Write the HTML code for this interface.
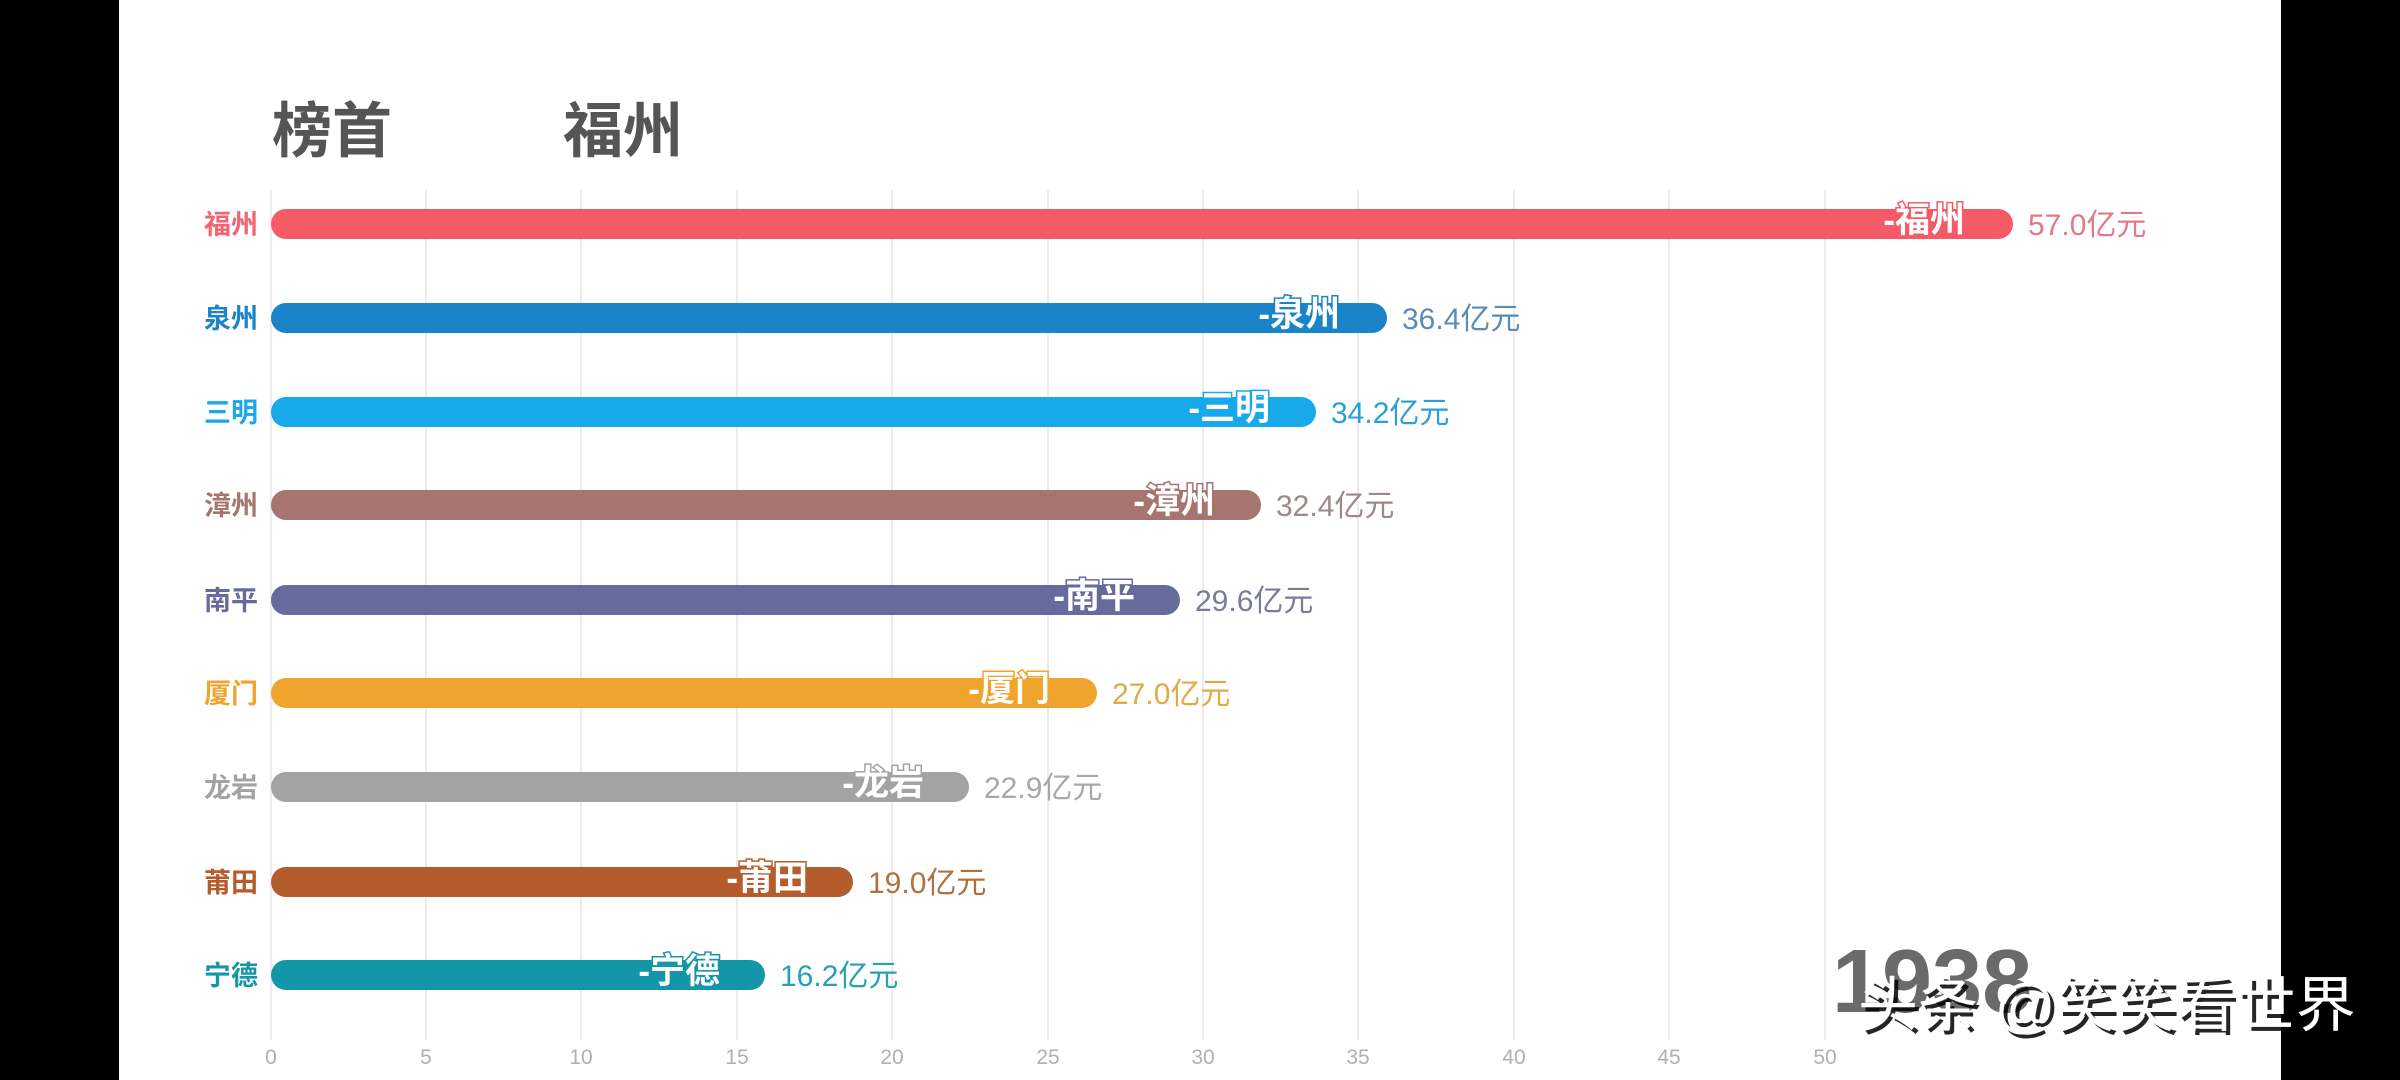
<!DOCTYPE html>
<html><head><meta charset="utf-8"><style>
html,body{margin:0;padding:0;background:#000;}
svg{display:block;}
text{font-family:"Liberation Sans","Noto Sans CJK SC",sans-serif;}
</style></head><body>
<svg width="2400" height="1080" viewBox="0 0 2400 1080" xmlns="http://www.w3.org/2000/svg">
<rect x="0" y="0" width="2400" height="1080" fill="#000"/>
<rect x="119" y="0" width="2162" height="1080" fill="#fff"/>
<g stroke="#ececec" stroke-width="2">
<line x1="271" y1="190" x2="271" y2="1040"/>
<line x1="426" y1="190" x2="426" y2="1040"/>
<line x1="581" y1="190" x2="581" y2="1040"/>
<line x1="737" y1="190" x2="737" y2="1040"/>
<line x1="892" y1="190" x2="892" y2="1040"/>
<line x1="1048" y1="190" x2="1048" y2="1040"/>
<line x1="1203" y1="190" x2="1203" y2="1040"/>
<line x1="1358" y1="190" x2="1358" y2="1040"/>
<line x1="1514" y1="190" x2="1514" y2="1040"/>
<line x1="1669" y1="190" x2="1669" y2="1040"/>
<line x1="1825" y1="190" x2="1825" y2="1040"/>
</g>
<g fill="#b0b0b0" font-size="21" text-anchor="middle">
<text x="271" y="1064">0</text><text x="426" y="1064">5</text><text x="581" y="1064">10</text><text x="737" y="1064">15</text><text x="892" y="1064">20</text><text x="1048" y="1064">25</text><text x="1203" y="1064">30</text><text x="1358" y="1064">35</text><text x="1514" y="1064">40</text><text x="1669" y="1064">45</text><text x="1825" y="1064">50</text>
</g>
<text x="272" y="152" font-size="60" font-weight="bold" fill="#555">榜首</text>
<text x="563" y="152" font-size="60" font-weight="bold" fill="#555">福州</text>
<g stroke-linecap="round" stroke-width="30">
<line x1="286" y1="224" x2="1998" y2="224" stroke="#f55b66"/>
<line x1="286" y1="318" x2="1372" y2="318" stroke="#1b84c9"/>
<line x1="286" y1="412" x2="1301" y2="412" stroke="#17a9ea"/>
<line x1="286" y1="505" x2="1246" y2="505" stroke="#a77470"/>
<line x1="286" y1="600" x2="1165" y2="600" stroke="#676a9c"/>
<line x1="286" y1="693" x2="1082" y2="693" stroke="#eea42d"/>
<line x1="286" y1="787" x2="954" y2="787" stroke="#a3a3a3"/>
<line x1="286" y1="882" x2="838" y2="882" stroke="#b45c2b"/>
<line x1="286" y1="975" x2="750" y2="975" stroke="#1496a8"/>
</g>
<g font-size="27" font-weight="bold" text-anchor="end">
<text x="258" y="234" fill="#f26470">福州</text>
<text x="258" y="328" fill="#1b84c9">泉州</text>
<text x="258" y="422" fill="#17a9ea">三明</text>
<text x="258" y="515" fill="#a77470">漳州</text>
<text x="258" y="610" fill="#676a9c">南平</text>
<text x="258" y="703" fill="#eea42d">厦门</text>
<text x="258" y="797" fill="#a3a3a3">龙岩</text>
<text x="258" y="892" fill="#b45c2b">莆田</text>
<text x="258" y="985" fill="#1496a8">宁德</text>
</g>
<g font-size="35" font-weight="bold" text-anchor="end" fill="#fff" stroke-width="3" paint-order="stroke">
<text x="1965" y="232" stroke="#f55b66">-福州</text>
<text x="1340" y="326" stroke="#1b84c9">-泉州</text>
<text x="1270" y="420" stroke="#17a9ea">-三明</text>
<text x="1215" y="513" stroke="#a77470">-漳州</text>
<text x="1135" y="608" stroke="#676a9c">-南平</text>
<text x="1050" y="701" stroke="#eea42d">-厦门</text>
<text x="924" y="795" stroke="#a3a3a3">-龙岩</text>
<text x="808" y="890" stroke="#b45c2b">-莆田</text>
<text x="720" y="983" stroke="#1496a8">-宁德</text>
</g>
<g font-size="30">
<text x="2028" y="235" fill="#e07a86">57.0亿元</text>
<text x="1402" y="329" fill="#5a8cb5">36.4亿元</text>
<text x="1331" y="423" fill="#2aa0d6">34.2亿元</text>
<text x="1276" y="516" fill="#9a8a88">32.4亿元</text>
<text x="1195" y="611" fill="#7a7c9a">29.6亿元</text>
<text x="1112" y="704" fill="#e0aa44">27.0亿元</text>
<text x="984" y="798" fill="#a8a8a8">22.9亿元</text>
<text x="868" y="893" fill="#b0703f">19.0亿元</text>
<text x="780" y="986" fill="#2aa0b0">16.2亿元</text>
</g>
<text x="1832" y="1012" font-size="90" font-weight="bold" fill="#6a6a6a">1938</text>
<text x="1862" y="1030" font-size="60" fill="#000" opacity="0.85">头条 @笑笑看世界</text>
<text x="1858" y="1026" font-size="60" fill="#fff">头条 @笑笑看世界</text>
</svg>
</body></html>
